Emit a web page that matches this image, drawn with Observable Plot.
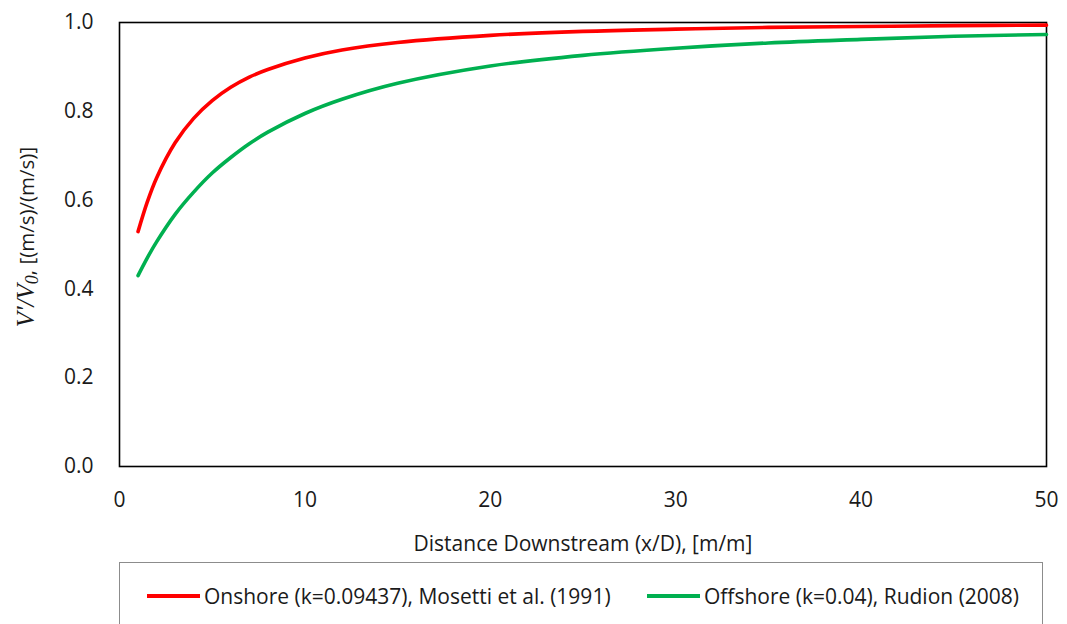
<!DOCTYPE html>
<html><head><meta charset="utf-8">
<script src="https://cdn.jsdelivr.net/npm/d3@7"></script>
<script src="https://cdn.jsdelivr.net/npm/@observablehq/plot@0.6"></script>
<style>
body{margin:0;background:#fff;font-family:"Open Sans",sans-serif;}
#wrap{position:relative;width:1067px;height:624px;overflow:hidden;}
#chart svg text{font-size:21px;fill:#1a1a1a;}
#legend{position:absolute;left:119px;top:562px;width:924px;height:80px;border:1px solid #8c8c8c;box-sizing:border-box;}
.item{position:absolute;top:19px;font-size:21px;color:#1a1a1a;display:flex;align-items:center;white-space:nowrap;}
.sw{display:inline-block;width:53px;height:3.5px;margin-right:4px;}
</style></head>
<body><div id="wrap"><div id="chart"></div><div id="legend"></div></div>
<script>
const distance = [1, 1.5, 2, 3, 4, 5, 6, 7, 8, 10, 12, 15, 20, 25, 30, 35, 40, 45, 50];
const onshore  = [0.529, 0.596, 0.650, 0.729, 0.784, 0.824, 0.854, 0.877, 0.894, 0.920, 0.938, 0.955, 0.971, 0.980, 0.985, 0.989, 0.991, 0.993, 0.994];
const offshore = [0.430, 0.470, 0.506, 0.568, 0.618, 0.661, 0.696, 0.727, 0.753, 0.795, 0.827, 0.863, 0.902, 0.926, 0.942, 0.954, 0.962, 0.969, 0.973];
const seriesNames = ["Onshore (k=0.09437), Mosetti et al. (1991)", "Offshore (k=0.04), Rudion (2008)"];
const seriesColors = ["#ff0000", "#00b050"];
const xTicks = [0, 10, 20, 30, 40, 50];
const yTicks = [0, 0.2, 0.4, 0.6, 0.8, 1.0];

const data = [];
distance.forEach((d, i) => {
  data.push({x: d, y: onshore[i], s: seriesNames[0]});
  data.push({x: d, y: offshore[i], s: seriesNames[1]});
});

const chart = Plot.plot({
  width: 1067, height: 560,
  marginTop: 22, marginLeft: 119, marginRight: 21, marginBottom: 94,
  style: {fontFamily: "'Open Sans', sans-serif", fontSize: "21px", color: "#1a1a1a", background: "#fff"},
  x: {domain: [0, 50], label: null},
  y: {domain: [0, 1], label: null},
  color: {domain: seriesNames, range: seriesColors},
  marks: [
    Plot.frame({stroke: "#000", strokeWidth: 1.6}),
    Plot.line(data, {x: "x", y: "y", z: "s", stroke: "s", strokeWidth: 3.6, curve: "catmull-rom"}),
    Plot.axisX({ticks: xTicks, tickSize: 0, tickPadding: 26, label: null}),
    Plot.axisY({ticks: yTicks, tickSize: 0, tickPadding: 26, tickFormat: d3.format(".1f"), label: null})
  ]
});
document.getElementById("chart").appendChild(chart);

const svg = d3.select(chart);
svg.append("text")
  .attr("x", 583).attr("y", 551)
  .attr("text-anchor", "middle")
  .text("Distance Downstream (x/D), [m/m]");

const yl = svg.append("text")
  .attr("transform", "translate(34,237) rotate(-90)")
  .attr("text-anchor", "middle")
  .style("font-size", "20.5px");
yl.append("tspan").attr("font-family", "'Liberation Serif', serif").attr("font-style", "italic").style("font-size", "25px").text("V′/V");
yl.append("tspan").attr("font-family", "'Liberation Serif', serif").attr("font-style", "italic").style("font-size", "18px").attr("dy", 4).text("0");
yl.append("tspan").attr("dy", -4).style("font-size", "20.5px").text(", [(m/s)/(m/s)]");

const legend = d3.select("#legend");
const pos = [27, 527];
seriesNames.forEach((n, i) => {
  const it = legend.append("div").attr("class", "item").style("left", pos[i] + "px");
  it.append("span").attr("class", "sw").style("background", seriesColors[i]);
  it.append("span").text(n);
});
</script></body></html>
